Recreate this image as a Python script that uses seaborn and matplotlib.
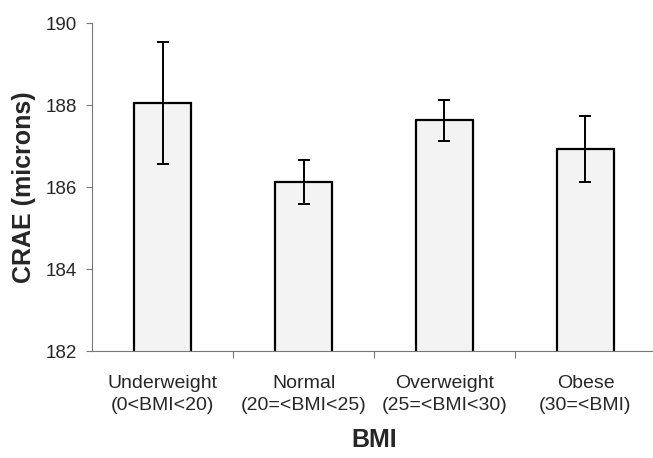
import matplotlib
matplotlib.use("Agg")
import matplotlib.pyplot as plt
import seaborn as sns
import pandas as pd
import numpy as np

categories = ["Underweight\n(0<BMI<20)", "Normal\n(20=<BMI<25)",
              "Overweight\n(25=<BMI<30)", "Obese\n(30=<BMI)"]
crae_mean = [188.05, 186.12, 187.63, 186.93]
crae_err = [1.48, 0.53, 0.50, 0.80]
y_ticks = [182, 184, 186, 188, 190]

sns.set_theme(style="white")
plt.rcParams['font.family'] = ['Liberation Sans', 'DejaVu Sans']

df = pd.DataFrame({"BMI": categories, "CRAE": crae_mean})

fig = plt.figure(figsize=(6.53, 4.58), dpi=100)
ax = fig.add_axes([92/653, 1 - 351/458, 564/653, 328/458])

sns.barplot(data=df, x="BMI", y="CRAE", ax=ax, width=0.41,
            color="#f3f3f3", edgecolor="black", linewidth=1.6,
            errorbar=None, saturation=1)
ax.errorbar(np.arange(len(categories)), crae_mean, yerr=crae_err,
            fmt="none", ecolor="black", elinewidth=1.4, capsize=4.5,
            capthick=1.4, zorder=5)

ax.set_ylim(182, 190)
ax.set_yticks(y_ticks)
ax.set_xlim(-0.5, len(categories) - 0.5)

for s in ["top", "right"]:
    ax.spines[s].set_visible(False)
for s in ["left", "bottom"]:
    ax.spines[s].set_color("#777777")
    ax.spines[s].set_linewidth(0.8)

ax.set_xticks(np.arange(len(categories)))
ax.set_xticklabels(categories, fontsize=14, linespacing=1.45)
ax.set_xticks([0.5, 1.5, 2.5], minor=True)
ax.tick_params(axis="x", which="major", length=0, pad=17)
ax.tick_params(axis="x", which="minor", length=5, width=0.8,
               color="#777777", direction="out", bottom=True)
ax.tick_params(axis="y", which="major", length=4, width=0.8,
               color="#777777", direction="out", left=True,
               labelsize=13.5, pad=7)

ax.set_xlabel("BMI", fontsize=18, fontweight="bold", labelpad=10)
ax.set_ylabel("CRAE (microns)", fontsize=18, fontweight="bold", labelpad=7)

fig.savefig("out.png", dpi=100)
